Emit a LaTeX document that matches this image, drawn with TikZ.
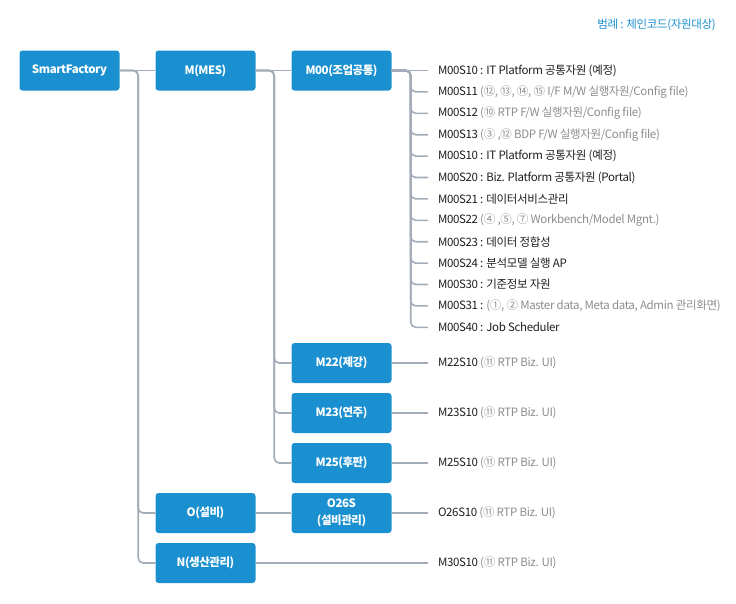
\documentclass[tikz,border=0pt]{standalone}
\usepackage{fontspec}
\setmainfont{Noto Sans CJK KR}
\newfontfamily\listfont[LetterSpace=-3]{Noto Sans CJK KR}
\newfontfamily\unitfont[LetterSpace=-4]{Noto Sans CJK KR}
\definecolor{boxblue}{HTML}{1B90D0}
\definecolor{linegray}{HTML}{A3ACB9}
\definecolor{darktext}{HTML}{1E1E1E}
\definecolor{graytext}{HTML}{8C8C8C}

\begin{document}
\begin{tikzpicture}[x=1pt, y=-1pt, font=\listfont\fontsize{11.5}{14}\selectfont,
  unit/.style={fill=boxblue, rounded corners=3pt, minimum width=100pt, minimum height=40pt, inner sep=1pt,
    text=white, align=center, font=\unitfont\fontsize{11.5}{17}\selectfont\bfseries},
  res/.style={anchor=west, inner xsep=0pt, outer xsep=10pt, text=darktext},
  ln/.style={draw=linegray, line width=1.6pt, rounded corners=5pt}]
\useasboundingbox (0,0) rectangle (736,603);
\def\rx{428}
\def\dy{21.4}
% legend
\node[anchor=east, inner sep=0pt, text=boxblue] (legend) at (716,25) {범례 : 체인코드(자원대상)};
% units
\node[unit] (SF)   at (69.5,70.5)  {SmartFactory};
\node[unit] (MES)  at (205.5,70.5) {M(MES)};
\node[unit] (M00)  at (341.5,70.5) {M00(조업공통)};
\node[unit] (M22)  at (341.5,363)  {M22(제강)};
\node[unit] (M23)  at (341.5,413)  {M23(연주)};
\node[unit] (M25)  at (341.5,463)  {M25(후판)};
\node[unit] (O)    at (205.5,513)  {O(설비)};
\node[unit] (O26S) at (341.5,513)  {O26S\\(설비관리)};
\node[unit] (N)    at (205.5,563)  {N(생산관리)};
% chain codes under M00
\node[res] (c1)  at (\rx,70.5+0*\dy)  {M00S10 : IT Platform 공통자원 (예정)};
\node[res] (c2)  at (\rx,70.5+1*\dy)  {M00S11 \textcolor{graytext}{(⑫, ⑬, ⑭, ⑮ I/F M/W 실행자원/Config file)}};
\node[res] (c3)  at (\rx,70.5+2*\dy)  {M00S12 \textcolor{graytext}{(⑩ RTP F/W 실행자원/Config file)}};
\node[res] (c4)  at (\rx,70.5+3*\dy)  {M00S13 \textcolor{graytext}{(③ ,⑫ BDP F/W 실행자원/Config file)}};
\node[res] (c5)  at (\rx,70.5+4*\dy)  {M00S10 : IT Platform 공통자원 (예정)};
\node[res] (c6)  at (\rx,70.5+5*\dy)  {M00S20 : Biz. Platform 공통자원 (Portal)};
\node[res] (c7)  at (\rx,70.5+6*\dy)  {M00S21 : 데이터서비스관리};
\node[res] (c8)  at (\rx,70.5+7*\dy)  {M00S22 \textcolor{graytext}{(④ ,⑤, ⑦ Workbench/Model Mgnt.)}};
\node[res] (c9)  at (\rx,70.5+8*\dy)  {M00S23 : 데이터 정합성};
\node[res] (c10) at (\rx,70.5+9*\dy)  {M00S24 : 분석모델 실행 AP};
\node[res] (c11) at (\rx,70.5+10*\dy) {M00S30 : 기준정보 자원};
\node[res] (c12) at (\rx,70.5+11*\dy) {M00S31 : \textcolor{graytext}{(①, ② Master data, Meta data, Admin 관리화면)}};
\node[res] (c13) at (\rx,70.5+12*\dy) {M00S40 : Job Scheduler};
% chain codes of the other units
\node[res] (d22) at (\rx,363) {M22S10 \textcolor{graytext}{(⑪ RTP Biz. UI)}};
\node[res] (d23) at (\rx,413) {M23S10 \textcolor{graytext}{(⑪ RTP Biz. UI)}};
\node[res] (d25) at (\rx,463) {M25S10 \textcolor{graytext}{(⑪ RTP Biz. UI)}};
\node[res] (d26) at (\rx,513) {O26S10 \textcolor{graytext}{(⑪ RTP Biz. UI)}};
\node[res] (d30) at (\rx,563) {M30S10 \textcolor{graytext}{(⑪ RTP Biz. UI)}};
% connectors: straight ones on the same row, elbows down the spines
\foreach \p/\ch in {SF/MES,MES/M00,M00/c1,M22/d22,M23/d23,M25/d25,O/O26S,O26S/d26,N/d30}
  \draw[ln] (\p.east) -- (\ch.west);
\foreach \ch in {O,N}
  \draw[ln] (SF.east) -- ++(18.5,0) |- (\ch.west);
\foreach \ch in {M22,M23,M25}
  \draw[ln] (MES.east) -- ++(18.5,0) |- (\ch.west);
\foreach \ch in {c2,c3,c4,c5,c6,c7,c8,c9,c10,c11,c12,c13}
  \draw[ln] (M00.east) -- ++(19,0) |- (\ch.west);
\end{tikzpicture}
\end{document}
